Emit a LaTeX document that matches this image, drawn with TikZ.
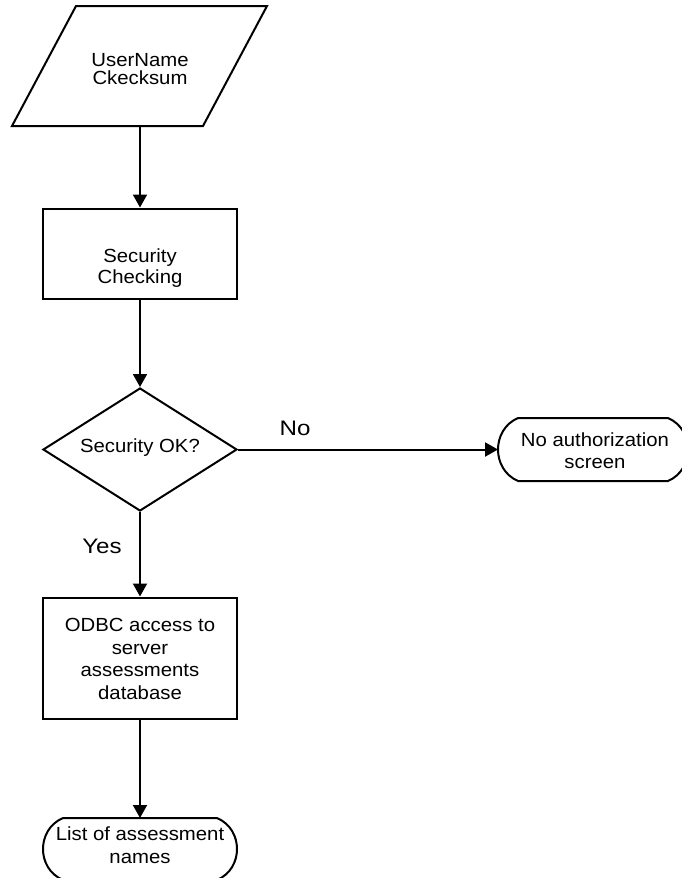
\documentclass[tikz,border=0pt]{standalone}
\usepackage{fontspec}
\setmainfont{Liberation Sans}[FakeStretch=1.07]
\newfontfamily\lblfont{Liberation Sans}[FakeStretch=1.15]
\usetikzlibrary{arrows.meta,shapes.geometric}

\tikzset{
  shape line/.style={draw=black, line width=2pt, line join=miter},
  flowbox/.style={shape line, rectangle, minimum width=194pt, inner sep=0pt},
  decision/.style={shape line, diamond, minimum width=194pt, minimum height=123pt, inner sep=0pt},
  boxtext/.style={align=center, inner sep=0pt, font=\fontsize{19}{22}\selectfont},
  branchlabel/.style={inner sep=0pt, anchor=base, font=\lblfont\fontsize{21}{24}\selectfont},
  flow/.style={line width=2pt, -{Triangle[length=13pt,width=14pt]}},
}

% terminator outline: left x, right x, top y, bottom y
\newcommand\termoutline[4]{%
  \draw[shape line]
    ({#1+20},#3) -- ({#2-20},#3)
    .. controls ({#2-6},{#3+6}) and (#2,{(#3+#4)/2-12}) .. (#2,{(#3+#4)/2})
    .. controls (#2,{(#3+#4)/2+12}) and ({#2-6},{#4-6}) .. ({#2-20},#4)
    -- ({#1+20},#4)
    .. controls ({#1+6},{#4-6}) and (#1,{(#3+#4)/2+12}) .. (#1,{(#3+#4)/2})
    .. controls (#1,{(#3+#4)/2-12}) and ({#1+6},{#3+6}) .. cycle;}

\begin{document}
\begin{tikzpicture}[x=1pt, y=-1pt]
  \useasboundingbox (0,0) rectangle (681,878);

  % input parallelogram
  \draw[shape line] (76,6) -- (267,6) -- (203,126) -- (12,126) -- cycle;
  \node[boxtext, font=\fontsize{19}{18.7}\selectfont] (user) at (140,69) {UserName\\Ckecksum};
  \coordinate (userout) at (140,126);

  % security check process
  \node[flowbox, minimum height=90pt] (check) at (140,253.5) {};
  \node[boxtext, font=\fontsize{19}{21}\selectfont] (checktext) at (140,268) {Security\\Checking};

  % decision
  \node[decision] (ok) at (140,449.5) {};
  \node[boxtext] (oktext) at (140,448) {Security OK?};

  % refusal terminator
  \termoutline{498}{688}{418}{481}
  \coordinate (denyin) at (498,449.5);
  \node[boxtext, font=\fontsize{19}{22.3}\selectfont] (deny) at (595,451) {No authorization\\screen};

  % database access process
  \node[flowbox, minimum height=121pt] (odbc) at (140,658) {};
  \node[boxtext, font=\fontsize{19}{22.5}\selectfont] (odbctext) at (140,659) {ODBC access to\\server\\assessments\\database};

  % result terminator
  \termoutline{43}{237}{818}{880}
  \coordinate (listin) at (140,818);
  \node[boxtext, font=\fontsize{19}{23}\selectfont] (list) at (140,845) {List of assessment\\names};

  % connectors
  \draw[flow] (userout) -- (check.north);
  \draw[flow] (check.south) -- (ok.north);
  \draw[flow] (ok.east) -- (denyin);
  \draw[flow] (ok.south) -- (odbc.north);
  \draw[flow] (odbc.south) -- (listin);

  % branch labels
  \node[branchlabel] (nolbl) at (295,435) {No};
  \node[branchlabel] (yeslbl) at (102,553) {Yes};
\end{tikzpicture}
\end{document}
